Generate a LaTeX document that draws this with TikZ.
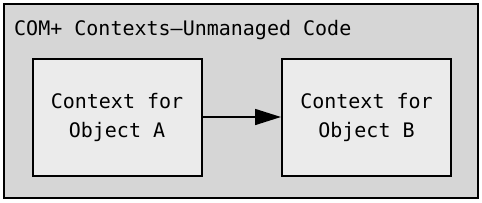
\documentclass[tikz,border=0pt]{standalone}
\usepackage{fontspec}
\setmonofont{DejaVu Sans Mono}
\usetikzlibrary{arrows.meta}
\definecolor{outerfill}{HTML}{D6D6D6}
\definecolor{innerfill}{HTML}{EBEBEB}
\begin{document}
\begin{tikzpicture}[x=1pt,y=1pt,
  ctxbox/.style={draw=black,line width=2pt,fill=innerfill,minimum width=169pt,minimum height=117pt,inner sep=0pt,
    font=\ttfamily\fontsize{20}{29}\selectfont,align=center},
  link/.style={line width=1.6pt,-{Triangle[length=26pt,width=16pt]}}]
\useasboundingbox (0,0) rectangle (482,202);
\node[draw=black,line width=2pt,fill=outerfill,minimum width=474pt,minimum height=194pt,inner sep=0pt] (outer) at (241,101) {};
\node[anchor=base west,font=\ttfamily\fontsize{20}{24}\selectfont,inner sep=0pt] (title) at (14,167) {COM+ Contexts\textendash Unmanaged Code};
\node[ctxbox] (a) at (117,85) {Context for\\Object A};
\node[ctxbox] (b) at (366.5,85) {Context for\\Object B};
\draw[link] (a.east) -- (b.west);
\end{tikzpicture}
\end{document}
